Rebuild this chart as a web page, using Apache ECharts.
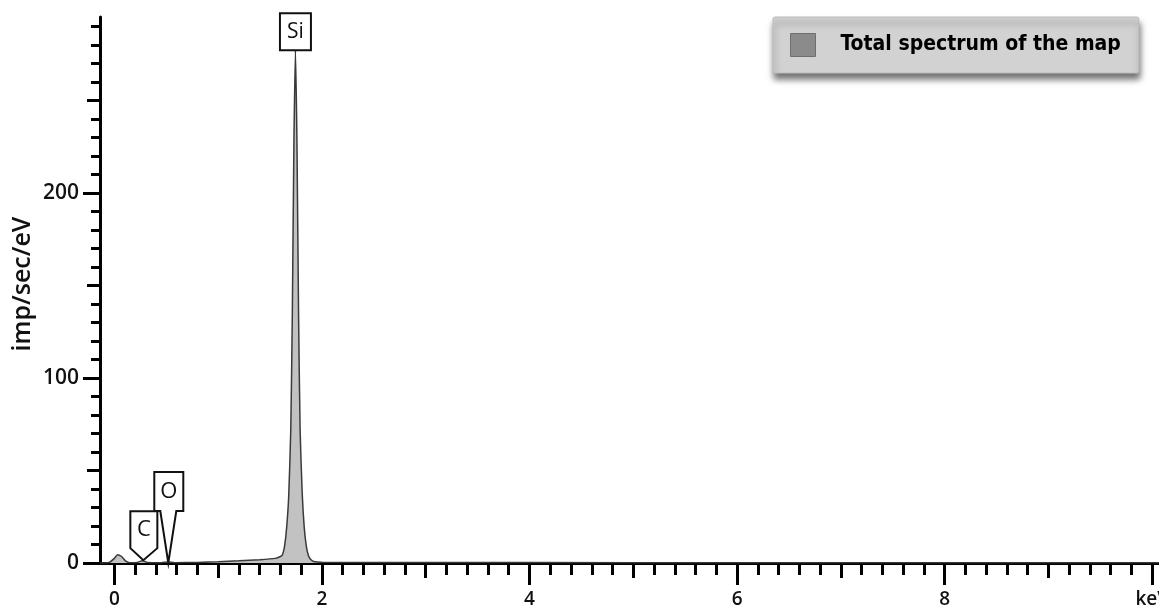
<!DOCTYPE html>
<html>
<head>
<meta charset="utf-8">
<script src="https://cdn.jsdelivr.net/npm/echarts@6/dist/echarts.min.js"></script>
<style>html,body{margin:0;padding:0;background:#fff}#c{width:1159px;height:611px}</style>
</head>
<body>
<div id="c"></div>
<script>
// Energy (keV) of each spectrum sample
var energy = [-0.138, -0.05, 0.0, 0.03, 0.07, 0.11, 0.15, 0.22, 0.27, 0.32, 0.45, 0.52, 0.58, 0.8, 1.0, 1.2, 1.4, 1.55, 1.60, 1.62, 1.64, 1.66, 1.68, 1.70, 1.715, 1.73, 1.745, 1.76, 1.775, 1.79, 1.81, 1.83, 1.85, 1.87, 1.89, 1.92, 2.0, 3.0, 5.0, 8.0, 10.07];
// Counts (imp/sec/eV) of each sample
var counts = [0, 0.3, 2.5, 4.5, 3.5, 1.0, 0.2, 0.3, 1.2, 0.3, 0.2, 0.6, 0.2, 0.3, 0.7, 1.2, 1.8, 2.5, 3.5, 4.5, 9, 19, 36, 72, 135, 225, 277, 225, 135, 72, 38, 19, 9, 4, 2, 0.8, 0.4, 0.3, 0.2, 0.2, 0.2];
// Element markers
var elements = ['C', 'O', 'Si'];
var elementEnergy = [0.27, 0.52, 1.745];
var elementCounts = [1, 0, 277];
// Tick values
var xMajorTicks = [0, 2, 4, 6, 8, 10];
var xMidTicks = [1, 3, 5, 7, 9];
var xMinorTicks = [0.2,0.4,0.6,0.8,1.2,1.4,1.6,1.8,2.2,2.4,2.6,2.8,3.2,3.4,3.6,3.8,4.2,4.4,4.6,4.8,5.2,5.4,5.6,5.8,6.2,6.4,6.6,6.8,7.2,7.4,7.6,7.8,8.2,8.4,8.6,8.8,9.2,9.4,9.6,9.8];
var xLabels = [0, 2, 4, 6, 8, 10];
var yMajorTicks = [0, 100, 200];
var yMidTicks = [50, 150, 250];
var yMinorTicks = [10,20,30,40,60,70,80,90,110,120,130,140,160,170,180,190,210,220,230,240,260,270,280,290];
var yLabels = [0, 100, 200];
var seriesName = 'Total spectrum of the map';

var XMIN = -0.138, XMAX = 10.065, YMIN = 0, YMAX = 295;
var labFont = "'Open Sans', 'Noto Sans', sans-serif";

function xAx(ticks, len, showLine, labels) {
  return {
    type: 'value', min: XMIN, max: XMAX, position: 'bottom',
    axisLine: {show: showLine, onZero: false, lineStyle: {color: '#000', width: 3}},
    axisTick: {show: true, length: len, customValues: ticks, lineStyle: {color: '#000', width: 3}},
    axisLabel: labels ? {show: true, customValues: labels, margin: 27, color: '#111', fontSize: 19, fontWeight: 600, fontFamily: labFont,
      formatter: function (v) { return v === 10 ? 'keV' : String(v); }} : {show: false},
    splitLine: {show: false}
  };
}
function yAx(ticks, len, showLine, labels) {
  var a = {
    type: 'value', min: YMIN, max: YMAX, position: 'left',
    axisLine: {show: showLine, onZero: false, lineStyle: {color: '#000', width: 3}},
    axisTick: {show: true, length: len, customValues: ticks, lineStyle: {color: '#000', width: 3}},
    axisLabel: labels ? {show: true, customValues: labels, margin: 21, color: '#111', fontSize: 21, fontWeight: 600, fontFamily: labFont} : {show: false},
    splitLine: {show: false}
  };
  if (labels) {
    a.name = 'imp/sec/eV'; a.nameLocation = 'middle'; a.nameGap = 65; a.nameMoveOverlap = false;
    a.nameTextStyle = {fontSize: 25, fontWeight: 600, color: '#111', fontFamily: labFont, padding: [0, 0, 0, 12]};
  }
  return a;
}

var data = energy.map(function (e, i) { return [e, counts[i]]; });

var chart = echarts.init(document.getElementById('c'), null, {renderer: 'canvas'});
chart.setOption({
  animation: false,
  backgroundColor: '#fff',
  grid: {left: 100, right: 0, top: 17, bottom: 48, containLabel: false, outerBoundsMode: 'none'},
  legend: {
    left: 773, top: 17, selectedMode: false, icon: 'rect',
    itemWidth: 25, itemHeight: 23,
    padding: [16, 18, 16, 17],
    backgroundColor: '#d2d2d2', borderColor: '#bcbcbc', borderWidth: 1, borderRadius: 2,
    shadowBlur: 6, shadowColor: 'rgba(0,0,0,0.55)', shadowOffsetY: 6, shadowOffsetX: 1,
    itemStyle: {color: '#8b8b8b', borderColor: '#6e6e6e', borderWidth: 1},
    textStyle: {fontSize: 21, fontWeight: 'bold', color: '#000', padding: [0, 0, 0, 20],
      fontFamily: "'Liberation Sans Narrow', 'DejaVu Sans Condensed', 'Open Sans', sans-serif"},
    data: [seriesName]
  },
  xAxis: [xAx(xMajorTicks, 22, true, xLabels), xAx(xMidTicks, 15, false, null), xAx(xMinorTicks, 12, false, null)],
  yAxis: [yAx(yMajorTicks, 17, true, yLabels), yAx(yMidTicks, 13, false, null), yAx(yMinorTicks, 9, false, null)],
  series: [{
    name: seriesName, type: 'line', data: data, xAxisIndex: 0, yAxisIndex: 0,
    showSymbol: false, symbol: 'none', smooth: 0.2,
    lineStyle: {color: '#3a3a3a', width: 1.5},
    itemStyle: {color: '#8b8b8b'},
    areaStyle: {color: '#c2c2c2', opacity: 1}
  }]
});

// Element marker tags, anchored at each element's (energy, counts) via the chart's scales
function tip(i) { return chart.convertToPixel({xAxisIndex: 0, yAxisIndex: 0}, [elementEnergy[i], elementCounts[i]]); }
var shapes = [
  // C: pentagon tag pointing down
  {pts: [[-12, -50], [15, -50], [15, -13], [1, -1], [-12, -13]], tx: [1.5, -31]},
  // O: box with V-shaped pointer
  {pts: [[-14, -91], [15, -91], [15, -52], [8, -52], [0, 0], [-8, -52], [-14, -52]], tx: [0.5, -71]},
  // Si: plain box
  {pts: [[-15.5, -37], [15.5, -37], [15.5, 0], [-15.5, 0]], tx: [0, -18.5]}
];
var gfx = [];
elements.forEach(function (el, i) {
  var p = tip(i), s = shapes[i];
  gfx.push({type: 'polygon', z: 100,
    shape: {points: s.pts.map(function (q) { return [p[0] + q[0], p[1] + q[1]]; })},
    style: {fill: '#fff', stroke: '#111', lineWidth: 2}});
  gfx.push({type: 'text', z: 101, x: p[0] + s.tx[0], y: p[1] + s.tx[1],
    style: {text: el, fill: '#111', font: (i === 2 ? '21px ' : '22px ') + labFont, align: 'center', verticalAlign: 'middle'}});
});
chart.setOption({graphic: gfx});
</script>
</body>
</html>
